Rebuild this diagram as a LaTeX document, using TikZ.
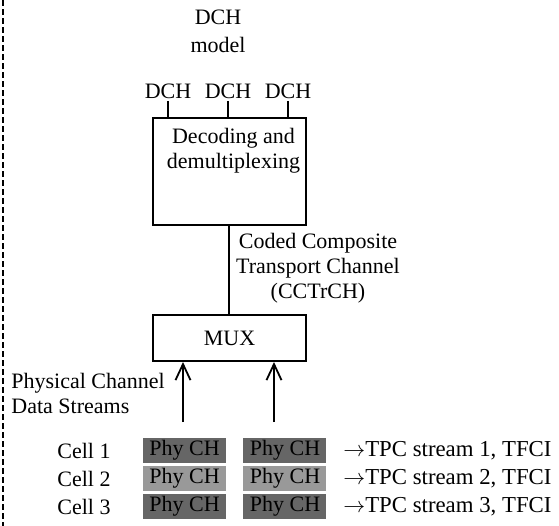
\documentclass[tikz,border=0pt]{standalone}
\usepackage{fontspec}
\setmainfont{Liberation Serif}
\usetikzlibrary{positioning,arrows.meta}
\definecolor{phydark}{gray}{0.4}
\definecolor{phylight}{gray}{0.6}

\begin{document}
\begin{tikzpicture}[x=0.5pt,y=-0.5pt,
	every node/.style={font=\fontsize{11}{12.5}\selectfont},
	box/.style={draw,line width=1pt,minimum width=76.5pt},
	dch/.style={inner sep=1pt},
	phych/.style={minimum width=41.5pt,minimum height=12.5pt,inner sep=0pt},
	stream/.style={-{Straight Barb[length=8pt,width=7.5pt]},line width=0.9pt}]
	\useasboundingbox (0,0) rectangle (559,526);
	\draw[dash pattern=on 3pt off 1.5pt, line width=0.7pt] (3,0) -- (3,526);
	\node[align=center,font=\fontsize{11}{14}\selectfont] (model) at (218,31) {DCH\\model};
	\node[dch] (dch1) at (168,91) {DCH};
	\node[dch] (dch2) at (228,91) {DCH};
	\node[dch] (dch3) at (288,91) {DCH};
	\node[box,minimum height=53.5pt] (dec) at (229.5,171.5) {};
	\node[align=center,below=2pt of dec.north,xshift=2pt] (dectext) {Decoding and\\demultiplexing};
	\draw[line width=0.9pt] (dch1.south) -- (dch1.south |- dec.north);
	\draw[line width=0.9pt] (dch2.south) -- (dch2.south |- dec.north);
	\draw[line width=0.9pt] (dch3.south) -- (dch3.south |- dec.north);
	\node[box,minimum height=23pt] (mux) at (229.5,338) {MUX};
	\draw[line width=1pt] (dec.south) -- (mux.north);
	\node[align=center] (cctrch) at (318,268) {Coded Composite\\Transport Channel\\(CCTrCH)};
	\node[align=left,anchor=west,inner sep=0pt] (pcds) at (11,393) {Physical Channel\\Data Streams};
	\coordinate (s1) at (183,422);
	\coordinate (s2) at (274,422);
	\draw[stream] (s1) -- (s1 |- mux.south);
	\draw[stream] (s2) -- (s2 |- mux.south);
	% rows of physical channels
	\foreach \i/\y/\c in {1/450.5/phydark,2/478.5/phylight,3/506.5/phydark}{
		\node (cell\i) at (84,\y) {Cell \i};
		\node[phych,fill=\c] (pa\i) at (184.5,\y) {Phy CH};
		\node[phych,fill=\c] (pb\i) at (285,\y) {Phy CH};
		\node[anchor=west,inner sep=0pt,font=\fontsize{11.4}{12.5}\selectfont] (tpc\i) at (343,\y) {$\rightarrow$TPC stream \i, TFCI};
	}
\end{tikzpicture}
\end{document}
